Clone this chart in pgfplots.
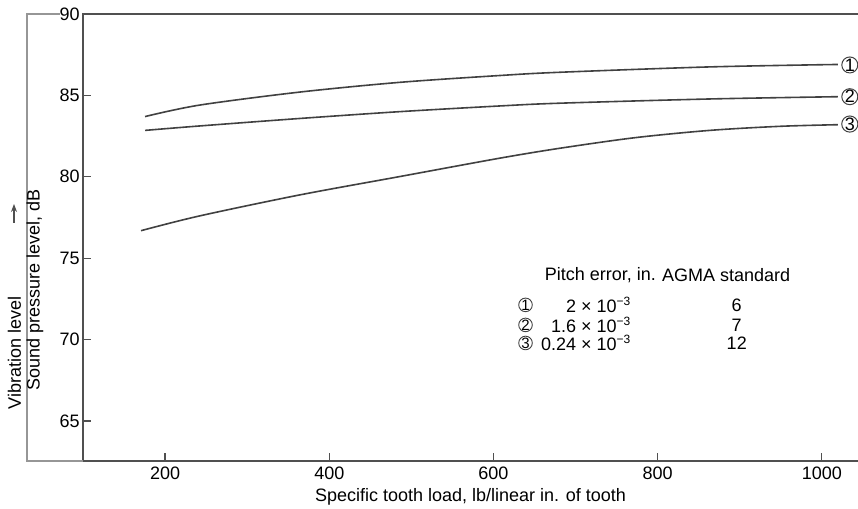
\documentclass[border=0pt]{standalone}
\usepackage{fontspec}
\setmainfont{Liberation Sans}
\usepackage{pgfplots}
\pgfplotsset{compat=1.18}
\usetikzlibrary{arrows.meta}

\definecolor{axisgray}{RGB}{80,80,80}
\definecolor{framegray}{RGB}{150,150,150}
\definecolor{curvegray}{RGB}{65,65,65}

\newcommand\lbl{\fontsize{9}{10.5}\selectfont}

\begin{document}
\lbl
\begin{tikzpicture}[font=\lbl]
\path[use as bounding box] (-41.5pt,-24pt) rectangle (387.5pt,230.5pt);
\begin{axis}[scale only axis, width=387.5pt, height=223.5pt,
  xmin=100, xmax=1044, ymin=62.54, ymax=90,
  xtick={200,400,600,800,1000}, ytick={65,70,75,80,85,90},
  xtick pos=left, ytick pos=left, tick align=inside,
  major tick length=4pt, tick style={axisgray, line width=0.6pt},
  axis line style={draw=none}, clip=false,
  /pgf/number format/assume math mode=true,
  /pgf/number format/1000 sep={},
  tick label style={font=\lbl},
  yticklabel style={xshift=1.5pt},
  xlabel={Specific tooth load, lb/linear in. of tooth},
  label style={font=\lbl},
  xlabel style={yshift=2pt}]
\draw[axisgray, line width=1pt] (rel axis cs:1,1) -- (rel axis cs:0,1) -- (rel axis cs:0,0) -- (rel axis cs:1,0);
% curve 1
\addplot[curvegray, line width=0.8pt, smooth, no marks] coordinates {(175.6,83.70) (241.5,84.40) (363.4,85.20) (485.4,85.80) (607.3,86.22) (680.5,86.42) (863.4,86.75) (1019.5,86.90)};
% curve 2
\addplot[curvegray, line width=0.8pt, smooth, no marks] coordinates {(175.6,82.85) (241.5,83.12) (363.4,83.58) (485.4,84.00) (607.3,84.35) (680.5,84.52) (863.4,84.78) (1019.5,84.92)};
% curve 3
\addplot[curvegray, line width=0.8pt, smooth, no marks] coordinates {(170.7,76.69) (241.5,77.59) (363.4,78.88) (485.4,80.01) (607.3,81.14) (680.5,81.75) (772,82.40) (863.4,82.85) (948.8,83.10) (1019.5,83.20)};
% curve labels
\node[draw=curvegray, circle, inner sep=0pt, minimum size=8pt, line width=0.5pt] at (axis cs:1034,86.87) {1};
\node[draw=curvegray, circle, inner sep=0pt, minimum size=8pt, line width=0.5pt] at (axis cs:1034,84.92) {2};
\node[draw=curvegray, circle, inner sep=0pt, minimum size=8pt, line width=0.5pt] at (axis cs:1034,83.24) {3};
% key
\node[anchor=west, inner sep=0pt] at (axis cs:662.2,73.97) {Pitch error, in.};
\node[anchor=west, inner sep=0pt] at (axis cs:804.9,73.97) {AGMA standard};
\node[draw=curvegray, circle, inner sep=0pt, minimum size=6.8pt, line width=0.45pt, font=\fontsize{7.5}{8}\selectfont] at (axis cs:639,72.13) {1};
\node[draw=curvegray, circle, inner sep=0pt, minimum size=6.8pt, line width=0.45pt, font=\fontsize{7.5}{8}\selectfont] at (axis cs:639,70.90) {2};
\node[draw=curvegray, circle, inner sep=0pt, minimum size=6.8pt, line width=0.45pt, font=\fontsize{7.5}{8}\selectfont] at (axis cs:639,69.79) {3};
\node[anchor=east, inner sep=0pt] at (axis cs:768.3,72.13) {2 × 10\textsuperscript{−3}};
\node[anchor=east, inner sep=0pt] at (axis cs:768.3,70.90) {1.6 × 10\textsuperscript{−3}};
\node[anchor=east, inner sep=0pt] at (axis cs:768.3,69.79) {0.24 × 10\textsuperscript{−3}};
\node[inner sep=0pt] at (axis cs:896.3,72.13) {6};
\node[inner sep=0pt] at (axis cs:896.3,70.90) {7};
\node[inner sep=0pt] at (axis cs:896.3,69.79) {12};
\end{axis}
\draw[framegray, line width=0.8pt] (-11.5pt,223.5pt) -- (-28pt,223.5pt) -- (-28pt,0pt) -- (0pt,0pt);
\node[rotate=90, inner sep=0pt] at (-34.25pt,54pt) {Vibration level};
\node[rotate=90, inner sep=0pt] at (-24pt,85.5pt) {Sound pressure level, dB};
\draw[axisgray, line width=0.55pt, -{Stealth[length=4pt, width=3pt]}] (-34.5pt,119pt) -- (-34.5pt,128.5pt);
\end{tikzpicture}
\end{document}
